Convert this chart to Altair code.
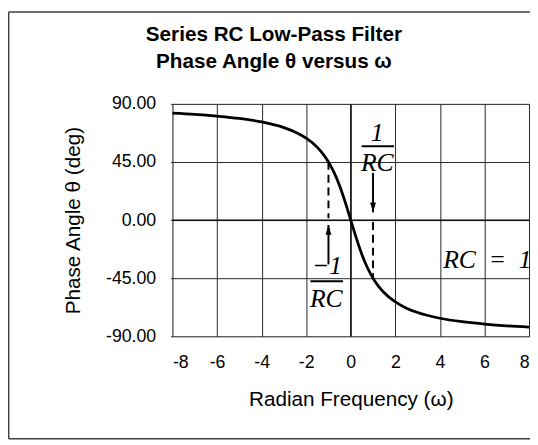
import altair as alt
import pandas as pd

# ---- data ----
omega = [-8, -7, -6, -5, -4, -3, -2.5, -2, -1.5, -1.25, -1, -0.75, -0.5, -0.25, 0,
         0.25, 0.5, 0.75, 1, 1.25, 1.5, 2, 2.5, 3, 4, 5, 6, 7, 8]
theta = [82.9, 81.9, 80.5, 78.7, 76.0, 71.6, 68.2, 63.4, 56.3, 51.3, 45.0, 36.9, 26.6, 14.0, 0.0,
         -14.0, -26.6, -36.9, -45.0, -51.3, -56.3, -63.4, -68.2, -71.6, -76.0, -78.7, -80.5, -81.9, -82.9]

x_ticks = [-8, -6, -4, -2, 0, 2, 4, 6, 8]
y_ticks = [-90, -45, 0, 45, 90]

title_lines = ["Series RC Low-Pass Filter", "Phase Angle \u03b8 versus \u03c9"]
x_title = "Radian Frequency (\u03c9)"
y_title = "Phase Angle \u03b8 (deg)"

# dashed guide lines (omega, from theta, to theta)
guide_w = [-1, 1]
guide_t1 = [45, -1.5]
guide_t2 = [1.5, -45]

# arrows (omega, tail theta, tip theta)
arrow_w = [-1, 1]
arrow_tail = [-34.3, 36.6]
arrow_tip = [-3.8, 6.0]
arrow_dir = ["up", "down"]

# annotation texts
ann_text = ["1", "RC", "\u22121", "RC"]
ann_w = [1.19, 1.19, -1.06, -1.1]
ann_t = [67.1, 44.2, -35.8, -61.0]
frac_w1 = [0.49, -1.81]
frac_w2 = [1.94, -0.35]
frac_t = [57.2, -47.3]
rc_text = ["RC\u00a0\u00a0=\u00a0\u00a01"]
rc_w = [4.15]
rc_t = [-31.3]

# ---- chart ----
W, H = 362, 236
xs = alt.Scale(domain=[-8, 8], nice=False, zero=False)
ys = alt.Scale(domain=[-90, 90], nice=False, zero=False)
GRID = "#262626"

xax = alt.Axis(
    values=x_ticks, title=x_title, grid=True, gridColor=GRID, gridWidth=1,
    domain=False, ticks=False, labelFont="Liberation Sans", labelFontSize=18,
    labelColor="black", labelPadding=27, labelBaseline="middle",
    labelExpr="'' + datum.value",
    titleFont="Liberation Sans", titleFontSize=21, titleFontWeight="normal",
    titleColor="black", titleX=W / 2, titleY=64, titleBaseline="middle",
    titleAlign="center")
yax = alt.Axis(
    values=y_ticks, title=y_title, grid=True, gridColor=GRID, gridWidth=1,
    domain=False, ticks=True, tickSize=2, tickColor=GRID,
    labelFont="Liberation Sans", labelFontSize=18, labelColor="black",
    labelPadding=15, labelExpr="replace(format(datum.value, '.2f'), '\u2212', '-')",
    titleFont="Liberation Sans", titleFontSize=21, titleFontWeight="normal",
    titleColor="black", titleX=-100, titleY=H / 2, titleAngle=-90,
    titleBaseline="middle", titleAlign="center")


def X(f):
    return alt.X(f, scale=xs, axis=xax)


def Y(f):
    return alt.Y(f, scale=ys, axis=yax)


curve_df = pd.DataFrame({"w": omega, "theta": theta})

curve = alt.Chart(curve_df).mark_line(
    color="black", strokeWidth=2.8, interpolate="monotone"
).encode(x=X("w:Q"), y=Y("theta:Q"))

zero_x = alt.Chart(pd.DataFrame({"w": [0]})).mark_rule(color="black", strokeWidth=1.2).encode(
    x=X("w:Q"))
zero_y = alt.Chart(pd.DataFrame({"theta": [0]})).mark_rule(color="black", strokeWidth=1.2).encode(
    y=Y("theta:Q"))

guides = alt.Chart(pd.DataFrame({"w": guide_w, "t1": guide_t1, "t2": guide_t2})).mark_rule(
    color="black", strokeWidth=2, strokeDash=[8, 5]
).encode(x=X("w:Q"), y=Y("t1:Q"), y2="t2:Q")

arrow_df = pd.DataFrame({"w": arrow_w, "tail": arrow_tail, "tip": arrow_tip, "dir": arrow_dir})
shafts = alt.Chart(arrow_df).mark_rule(color="black", strokeWidth=2).encode(
    x=X("w:Q"), y=Y("tail:Q"), y2="tip:Q")
heads_up = alt.Chart(arrow_df[arrow_df["dir"] == "up"]).mark_point(
    shape="M0,0L-0.6,2L0.6,2Z", filled=True, color="black", size=100, opacity=1
).encode(x=X("w:Q"), y=Y("tip:Q"))
heads_down = alt.Chart(arrow_df[arrow_df["dir"] == "down"]).mark_point(
    shape="M0,0L-0.6,-2L0.6,-2Z", filled=True, color="black", size=100, opacity=1
).encode(x=X("w:Q"), y=Y("tip:Q"))

ann = alt.Chart(pd.DataFrame({"txt": ann_text, "w": ann_w, "t": ann_t})).mark_text(
    font="Liberation Serif", fontStyle="italic", fontSize=26, color="black",
    align="center", baseline="middle"
).encode(x=X("w:Q"), y=Y("t:Q"), text="txt:N")
bars = alt.Chart(pd.DataFrame({"w1": frac_w1, "w2": frac_w2, "t": frac_t})).mark_rule(
    color="black", strokeWidth=2
).encode(x=X("w1:Q"), x2="w2:Q", y=Y("t:Q"))
rc = alt.Chart(pd.DataFrame({"txt": rc_text, "w": rc_w, "t": rc_t})).mark_text(
    font="Liberation Serif", fontStyle="italic", fontSize=26, color="black",
    align="left", baseline="middle"
).encode(x=X("w:Q"), y=Y("t:Q"), text="txt:N")

one = pd.DataFrame({"a": [0]})
title1 = alt.Chart(one).mark_text(
    font="Liberation Sans", fontWeight="bold", fontSize=21, color="black",
    align="center", baseline="middle"
).encode(x=alt.value(103), y=alt.value(-70), text=alt.value(title_lines[0]))
title2 = alt.Chart(one).mark_text(
    font="Liberation Sans", fontWeight="bold", fontSize=21, color="black",
    align="center", baseline="middle"
).encode(x=alt.value(103), y=alt.value(-42), text=alt.value(title_lines[1]))

frame_left = alt.Chart(one).mark_rule(color="#404040", strokeWidth=1.5).encode(
    x=alt.value(-166.3), y=alt.value(-93.3), y2=alt.value(340))
frame_top = alt.Chart(one).mark_rule(color="#404040", strokeWidth=1.5).encode(
    x=alt.value(-166.3), x2=alt.value(420), y=alt.value(-93.3))
frame_bottom = alt.Chart(one).mark_rule(color="#404040", strokeWidth=1.5).encode(
    x=alt.value(-166.3), x2=alt.value(420), y=alt.value(340))

chart = alt.layer(
    curve, zero_x, zero_y, guides, shafts, heads_up, heads_down, bars, ann, rc,
    title1, title2, frame_left, frame_top, frame_bottom
).properties(
    width=W, height=H,
    autosize=alt.AutoSizeParams(type="none"),
    padding={"left": 167, "top": 94, "right": 1, "bottom": 107},
).configure_view(
    stroke="#3c3c3c", strokeWidth=1
).configure(background="white")

chart.save("out.html", embed_options={"renderer": "svg", "actions": False})
